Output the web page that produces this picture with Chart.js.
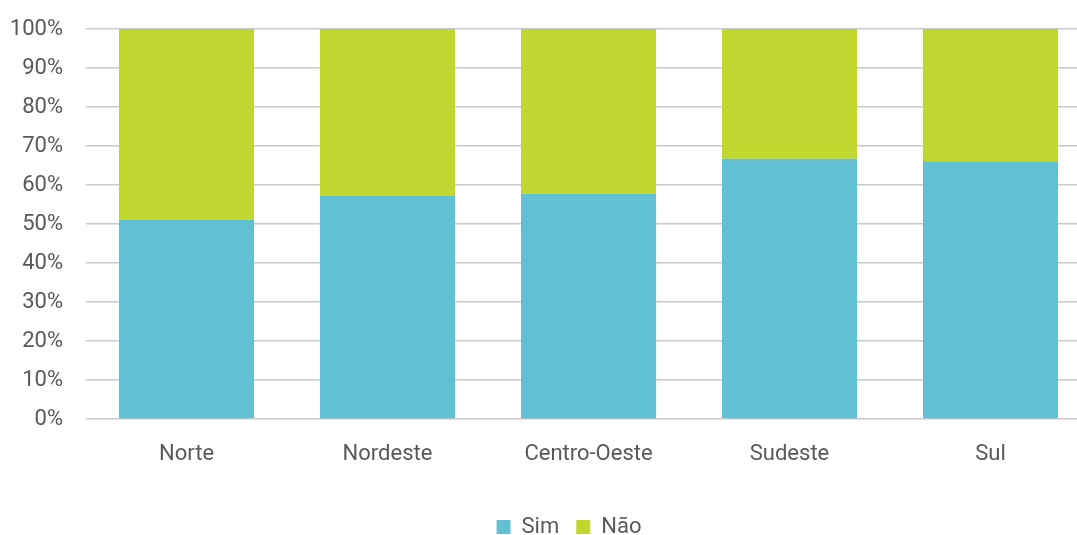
<!DOCTYPE html>
<html>
<head>
<meta charset="utf-8">
<script src="https://cdn.jsdelivr.net/npm/chart.js@4.4.0/dist/chart.umd.min.js"></script>
<style>
    html, body { margin: 0; padding: 0; background: #fff; overflow: hidden; }
    #wrap { width: 1128px; height: 535px; }
</style>
</head>
<body>
<div id="wrap"><canvas id="regionChart" width="1128" height="535"></canvas></div>
<script>
const regions = ["Norte", "Nordeste", "Centro-Oeste", "Sudeste", "Sul"];
const sim = [51.1, 57.2, 57.8, 66.7, 66.1];
const nao = [48.9, 42.8, 42.2, 33.3, 33.9];

window.onload = function() {
    const ctx = document.getElementById('regionChart').getContext("2d");
    Chart.defaults.font.family = "Roboto";
    Chart.defaults.font.size = 22;
    Chart.defaults.color = "#595959";

    new Chart(ctx, {
        type: 'bar',
        data: {
            labels: regions,
            datasets: [
                { label: "Sim", data: sim, backgroundColor: "#62C0D5", barPercentage: 0.672, categoryPercentage: 1 },
                { label: "Não", data: nao, backgroundColor: "#C0D730", barPercentage: 0.672, categoryPercentage: 1 }
            ]
        },
        options: {
            responsive: false,
            animation: false,
            layout: {
                // legend pushed down a bit, it sits near the bottom edge in the original
                padding: { left: 10, right: 0, top: 29, bottom: -13 }
            },
            plugins: {
                tooltip: { enabled: false },
                legend: {
                    position: 'bottom',
                    labels: { boxWidth: 14, boxHeight: 14, padding: 17, color: "#595959" }
                }
            },
            scales: {
                x: {
                    stacked: true,
                    grid: { display: false, drawTicks: false },
                    border: { display: false },
                    ticks: { padding: 22 },
                    afterFit: function(s) { s.height = 80; }
                },
                y: {
                    stacked: true,
                    min: 0,
                    max: 100,
                    grid: { color: "#c9c9c9", lineWidth: 1.5, drawTicks: false },
                    border: { display: false },
                    ticks: {
                        stepSize: 10,
                        padding: 23,
                        callback: function(v) { return v + "%"; }
                    },
                    afterFit: function(s) {
                        s.width = 76;
                        s.paddingTop = 12;
                        s.paddingBottom = 12;
                    }
                },
                y2: {
                    type: 'linear',
                    position: 'right',
                    grid: { display: false },
                    border: { display: false },
                    ticks: { display: false },
                    afterFit: function(s) { s.width = 37; }
                }
            }
        }
    });
};
</script>
</body>
</html>
